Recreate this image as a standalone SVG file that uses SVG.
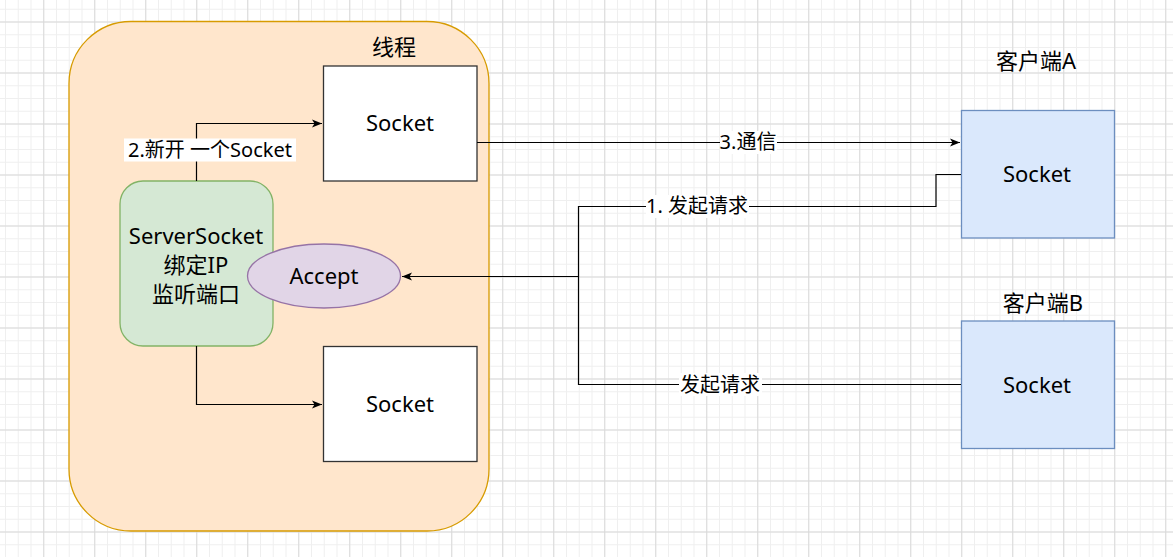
<svg xmlns="http://www.w3.org/2000/svg" width="1173" height="557" viewBox="0 0 1173 557">
<defs>
<pattern id="minor" patternUnits="userSpaceOnUse" x="43.25" y="21.5" width="12.75" height="12.75">
<path d="M0.5 0 V12.75 M0 0.5 H12.75" stroke="#efefef" stroke-width="1" fill="none"/>
</pattern>
<pattern id="major" patternUnits="userSpaceOnUse" x="43.25" y="21.5" width="51" height="51">
<path d="M0.5 0 V51 M0 0.5 H51" stroke="#d9d9d9" stroke-width="1" fill="none"/>
</pattern>
<marker id="arrow" markerUnits="userSpaceOnUse" markerWidth="12" markerHeight="10" refX="10" refY="4" orient="auto" viewBox="0 0 12 8">
<path d="M0,0 L10,4 L0,8 L2.5,4 Z" fill="#000"/>
</marker>
<style>
text{font-family:"Comic Sans MS","Noto Sans","Noto Sans CJK SC",sans-serif;fill:#000;text-anchor:middle;dominant-baseline:central}
.n{font-size:22px}
.e{font-size:20px}
.edge{fill:none;stroke:#000;stroke-width:1.2}
.lbl{fill:#fff}
.sock{fill:#fff;stroke:#333;stroke-width:1.3}
.client{fill:#dae8fc;stroke:#6c8ebf;stroke-width:1.3}
</style>
</defs>
<rect width="1173" height="557" fill="#fff"/>
<rect width="1173" height="557" fill="url(#minor)"/>
<rect width="1173" height="557" fill="url(#major)"/>

<g id="thread">
<rect x="69" y="21.5" width="420" height="509.5" rx="62" ry="62" fill="#ffe6cc" stroke="#d79b00" stroke-width="1.3"/>
<text class="n" x="394" y="46">线程</text>
</g>

<g id="socket-top">
<rect class="sock" x="323.5" y="66" width="153.5" height="115"/>
<text class="n" x="400" y="122">Socket</text>
</g>

<g id="socket-bottom">
<rect class="sock" x="323.5" y="346.5" width="153.5" height="115"/>
<text class="n" x="400" y="403">Socket</text>
</g>

<g id="serversocket">
<rect x="120" y="181" width="153" height="165" rx="23" ry="23" fill="#d5e8d4" stroke="#82b366" stroke-width="1.3"/>
<text class="n" x="196" y="235">ServerSocket</text>
<text class="n" x="196" y="264">绑定IP</text>
<text class="n" x="196" y="293">监听端口</text>
</g>

<g id="accept">
<ellipse cx="324" cy="276" rx="76.5" ry="32" fill="#e1d5e7" stroke="#9673a6" stroke-width="1.3"/>
<text class="n" x="324" y="275">Accept</text>
</g>

<g id="clientA">
<text class="n" x="1036" y="60">客户端A</text>
<rect class="client" x="961.5" y="110.5" width="153" height="127.5"/>
<text class="n" x="1037" y="173">Socket</text>
</g>

<g id="clientB">
<text class="n" x="1043" y="302">客户端B</text>
<rect class="client" x="961.5" y="321" width="153" height="127.5"/>
<text class="n" x="1037" y="384">Socket</text>
</g>

<g id="connectors">
<path class="edge" d="M196.5 181 V123.5 H322" marker-end="url(#arrow)"/>
<rect class="lbl" x="124" y="138.5" width="172" height="23"/>
<text class="e" x="210" y="149">2.新开 一个Socket</text>

<path class="edge" d="M196.5 346 V404.5 H322" marker-end="url(#arrow)"/>

<path class="edge" d="M477 142.5 H960" marker-end="url(#arrow)"/>
<rect class="lbl" x="720" y="131" width="57" height="23"/>
<text class="e" x="748" y="141">3.通信</text>

<path class="edge" d="M961 174.5 H936 V206.5 H578.5 V276.5 H402" marker-end="url(#arrow)"/>
<rect class="lbl" x="646" y="195" width="103" height="23"/>
<text class="e" x="697" y="205">1. 发起请求</text>

<path class="edge" d="M961 384.5 H578.5 V276.5"/>
<rect class="lbl" x="679" y="373" width="83" height="23"/>
<text class="e" x="720" y="384">发起请求</text>
</g>
</svg>
